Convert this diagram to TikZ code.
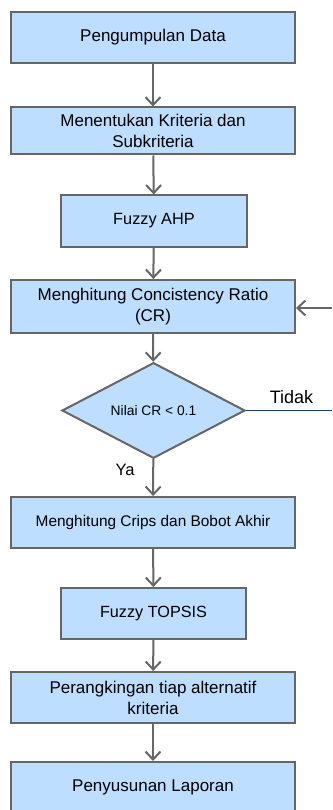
\documentclass[tikz,border=0pt]{standalone}
\usepackage{fontspec}
\setmainfont{Liberation Sans}
\usetikzlibrary{shapes.geometric,arrows.meta}
\definecolor{boxfill}{HTML}{BDDEFF}
\definecolor{boxline}{HTML}{666666}
\definecolor{navyline}{HTML}{1F3A8A}
\begin{document}
\begin{tikzpicture}[x=1pt,y=-1pt,
  procbox/.style={draw=boxline,line width=2pt,fill=boxfill,rectangle,inner sep=0pt,
    align=center,text=black,font=\fontsize{17}{21}\selectfont},
  widebox/.style={procbox,minimum width=284pt,minimum height=51pt},
  narrowbox/.style={procbox,minimum width=186pt,minimum height=51pt},
  decbox/.style={draw=boxline,line width=2pt,fill=boxfill,diamond,inner sep=0pt,
    minimum width=183pt,minimum height=77pt,font=\fontsize{13.8}{16}\selectfont},
  flow/.style={draw=boxline,line width=2pt,-{Straight Barb[length=8pt,width=15pt]}},
  lbl/.style={font=\fontsize{18}{21}\selectfont,inner sep=0pt}]
\useasboundingbox (0,0) rectangle (332,810);
\node[widebox] (b1) at (153,37.5) {Pengumpulan Data};
\node[widebox,minimum height=47pt] (b2) at (153,131) {Menentukan Kriteria dan\\Subkriteria};
\node[narrowbox,font=\fontsize{16.3}{20}\selectfont] (b3) at (154,221) {Fuzzy AHP};
\node[widebox,minimum height=53pt] (b4) at (153,306.5) {Menghitung Concistency Ratio\\(CR)};
\node[decbox] (d1) at (153.5,410.5) {Nilai CR < 0.1};
\node[widebox,font=\fontsize{15.4}{19}\selectfont] (b5) at (153,522.5) {Menghitung Crips dan Bobot Akhir};
\node[narrowbox,font=\fontsize{16.2}{20}\selectfont,minimum width=185pt] (b6) at (153.5,613.5) {Fuzzy TOPSIS};
\node[widebox] (b7) at (153,697.5) {Perangkingan tiap alternatif\\kriteria};
\node[widebox] (b8) at (153,787.5) {Penyusunan Laporan};
\coordinate (r1) at (332,308);
\coordinate (r2) at (332,410.5);
\draw[flow] (b1) -- (b2);
\draw[flow] (b2) -- (b3);
\draw[flow] (b3) -- (b4);
\draw[flow] (b4) -- (d1);
\draw[flow] (d1) -- (b5);
\draw[flow] (b5) -- (b6);
\draw[flow] (b6) -- (b7);
\draw[flow] (b7) -- (b8);
\draw[flow] (r1) -- (b4.east |- r1);
\draw[navyline,line width=1.6pt] (d1.east) -- (r2);
\node[lbl] (tidak) at (291.5,397) {Tidak};
\node[lbl,font=\fontsize{16.5}{20}\selectfont] (ya) at (125,470) {Ya};
\end{tikzpicture}
\end{document}
